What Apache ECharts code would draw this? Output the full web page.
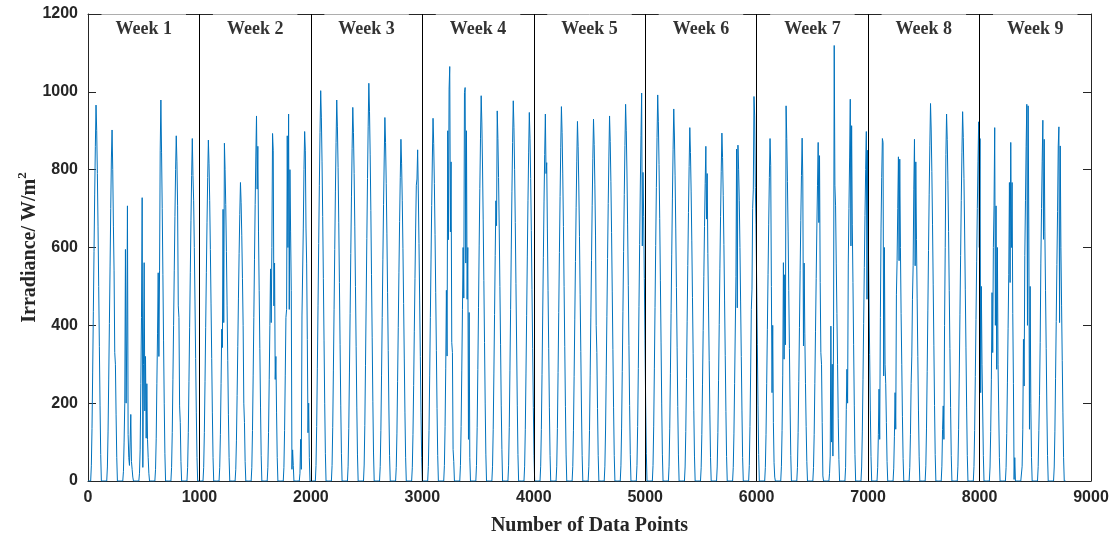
<!DOCTYPE html>
<html>
<head>
<meta charset="utf-8">
<script src="https://cdn.jsdelivr.net/npm/echarts@6/dist/echarts.min.js"></script>
<style>
html,body{margin:0;padding:0;background:#fff;}
#chart{width:1119px;height:542px;}
</style>
</head>
<body>
<div id="chart"></div>
<script>
// Hourly irradiance readings (W/m^2) for hours 05:00..19:00 of each day; other hours are 0.
// Each day spans 144 data points (10-minute samples); 7 days per block.
const hoursFrom = 5;
const pointsPerDay = 144;
const pointsPerHour = 6;

const block1 = [
  [39,135,280,435,590,735,860,966,900,790,655,500,345,195,68],
  [36,126,262,405,550,700,830,902,800,655,540,330,300,170,60],
  [25,100,200,595,200,370,707,120,60,40,100,171,50,30,10],
  [20,80,250,420,728,35,300,561,180,320,110,250,107,60,20],
  [30,110,250,380,535,320,540,850,979,845,700,530,360,200,70],
  [35,125,260,400,540,680,800,887,820,707,450,420,193,150,50],
  [35,125,255,395,535,670,785,880,785,720,600,460,315,175,60]
];
const block2 = [
  [35,125,255,395,535,665,780,876,815,720,595,455,315,175,60],
  [35,120,250,390,343,698,407,868,800,710,590,450,310,170,60],
  [30,105,220,345,470,585,685,767,715,630,520,400,200,150,50],
  [35,130,270,420,570,710,835,938,750,860,640,490,340,190,65],
  [35,125,260,400,545,407,600,893,850,450,560,261,320,175,60],
  [35,130,270,420,441,887,600,943,441,800,640,490,30,80,40],
  [20,107,30,424,420,650,800,898,850,650,560,364,124,200,60]
];
const block3 = [
  [40,140,290,450,610,760,895,1003,935,820,680,520,360,200,70],
  [40,137,285,440,595,745,870,979,910,805,665,510,350,195,70],
  [38,135,280,430,585,730,855,960,895,790,655,500,345,190,67],
  [41,143,296,460,623,777,910,1022,950,838,695,530,368,205,72],
  [37,130,270,420,570,710,830,934,870,765,635,485,335,185,65],
  [35,123,255,395,535,667,780,878,815,720,597,456,316,175,61],
  [34,120,245,385,520,650,760,776,851,740,610,465,320,175,60]
];
const block4 = [
  [37,130,270,420,568,708,830,932,867,765,634,485,335,186,65],
  [40,140,290,490,321,900,620,1007,1065,640,820,356,330,81,50],
  [40,140,285,440,600,470,998,1011,560,900,467,600,107,433,60],
  [40,138,287,445,604,752,881,990,920,812,673,515,356,198,69],
  [38,133,275,428,580,720,656,951,880,780,650,500,350,193,81],
  [39,137,283,440,596,743,870,977,909,801,664,508,352,195,68],
  [38,133,275,426,578,720,843,947,881,777,644,492,341,189,66]
];
const block5 = [
  [38,132,273,424,575,717,839,943,790,818,650,490,340,188,66],
  [38,135,279,433,587,731,856,962,895,789,654,500,346,192,67],
  [37,129,268,416,564,702,822,924,859,758,628,480,333,185,65],
  [37,130,270,419,567,707,828,930,865,763,632,400,330,186,65],
  [38,131,272,422,572,713,835,938,872,769,638,488,338,188,66],
  [39,136,281,436,590,736,862,968,900,794,658,503,348,194,68],
  [40,140,289,449,608,758,887,997,604,793,680,520,360,200,70]
];
const block6 = [
  [40,139,288,446,605,754,883,992,923,813,675,516,357,198,69],
  [38,134,277,430,583,727,851,956,889,784,650,497,344,191,67],
  [36,127,263,409,554,690,808,908,844,745,617,472,327,182,64],
  [34,120,249,387,525,654,765,860,673,790,585,447,310,172,60],
  [36,125,259,402,545,679,796,894,831,733,608,465,322,179,63],
  [35,121,250,388,526,853,445,863,800,720,600,460,320,180,60],
  [40,140,280,441,493,700,750,988,938,754,660,510,350,195,68]
];
const block7 = [
  [35,120,250,390,530,660,780,880,810,500,227,400,150,47,10],
  [38,130,270,561,313,530,350,964,880,770,640,490,340,190,66],
  [35,125,255,395,540,670,785,881,776,347,560,380,250,140,50],
  [35,120,250,385,520,650,760,870,664,836,510,330,300,150,13],
  [20,64,398,100,300,64,398,1120,760,707,560,430,300,160,55],
  [35,184,287,200,560,700,830,981,604,913,660,510,350,195,68],
  [36,126,260,404,548,682,800,898,467,850,620,470,325,180,63]
];
const block8 = [
  [35,120,236,107,420,650,780,880,870,270,600,300,250,150,50],
  [33,115,227,133,480,566,700,833,566,827,600,430,300,165,58],
  [35,120,250,321,467,553,750,878,553,820,620,470,320,180,62],
  [39,136,281,437,592,737,863,970,902,795,660,504,349,194,68],
  [38,132,193,107,400,600,839,943,877,773,641,490,340,189,66],
  [38,133,275,427,579,721,845,949,883,778,645,493,342,190,66],
  [37,130,268,415,563,700,820,923,600,880,227,500,300,185,65]
];
const block9 = [
  [36,127,260,484,330,600,707,908,400,707,287,600,300,180,60],
  [35,122,252,391,530,767,510,870,600,767,430,250,4,60,0],
  [38,133,364,244,580,720,860,968,400,964,650,133,500,200,60],
  [37,130,219,356,560,700,820,927,621,878,640,490,340,185,65],
  [36,128,264,410,556,693,861,910,407,861,600,450,310,175,60]
];

const weekLabels = ['Week 1','Week 2','Week 3','Week 4','Week 5','Week 6','Week 7','Week 8','Week 9'];
const weekBoundaries = [1000,2000,3000,4000,5000,6000,7000,8000];
const xTicks = [0,1000,2000,3000,4000,5000,6000,7000,8000,9000];
const yTicks = [0,200,400,600,800,1000,1200];
const weekSize = 1000;
const labelLevel = 1160;

// Build the series table from the blocks.
const days = [].concat(block1,block2,block3,block4,block5,block6,block7,block8,block9);
const seriesData = [];
days.forEach((vals, d) => {
  for (let h = 0; h < 24; h++) {
    const i = h - hoursFrom;
    const v = (i >= 0 && i < vals.length) ? vals[i] : 0;
    seriesData.push([d * pointsPerDay + h * pointsPerHour, v]);
  }
});

const labelData = weekLabels.map((t, i) => ({ name: t, value: [weekSize * i + weekSize / 2, labelLevel] }));

const axisColor = '#262626';
const tickFont = { fontFamily: 'Liberation Sans', fontWeight: 'bold', fontSize: 16, color: axisColor, formatter: v => String(v) };

const chart = echarts.init(document.getElementById('chart'), null, { renderer: 'canvas' });
chart.setOption({
  animation: false,
  backgroundColor: '#fff',
  grid: { left: 88, right: 28, top: 14, bottom: 61, containLabel: false },
  xAxis: [
    {
      type: 'value', min: xTicks[0], max: xTicks[xTicks.length - 1], interval: 1000,
      axisLine: { show: true, onZero: false, lineStyle: { color: axisColor, width: 1 } },
      axisTick: { show: true, inside: true, length: 8, lineStyle: { color: axisColor } },
      axisLabel: Object.assign({ margin: 9 }, tickFont),
      splitLine: { show: false },
      name: 'Number of Data Points', nameLocation: 'middle', nameGap: 35, nameMoveOverlap: false,
      nameTextStyle: { fontFamily: 'Liberation Serif', fontWeight: 'bold', fontSize: 20, color: axisColor }
    },
    {
      type: 'value', position: 'top', min: xTicks[0], max: xTicks[xTicks.length - 1], interval: 1000,
      axisLine: { show: true, onZero: false, lineStyle: { color: axisColor, width: 1 } },
      axisTick: { show: true, inside: true, length: 8, lineStyle: { color: axisColor } },
      axisLabel: { show: false }, splitLine: { show: false }
    }
  ],
  yAxis: [
    {
      type: 'value', min: yTicks[0], max: yTicks[yTicks.length - 1], interval: 200,
      axisLine: { show: true, onZero: false, lineStyle: { color: axisColor, width: 1 } },
      axisTick: { show: true, inside: true, length: 8, lineStyle: { color: axisColor } },
      axisLabel: Object.assign({ margin: 10 }, tickFont),
      splitLine: { show: false },
      name: 'Irradiance/ W/m{sup|2}', nameLocation: 'middle', nameGap: 45, nameMoveOverlap: false,
      nameTextStyle: {
        fontFamily: 'Liberation Serif', fontWeight: 'bold', fontSize: 20, color: axisColor,
        rich: { sup: { fontFamily: 'Liberation Serif', fontWeight: 'bold', fontSize: 13, color: axisColor, padding: [0, 0, 14, 0] } }
      }
    },
    {
      type: 'value', position: 'right', min: yTicks[0], max: yTicks[yTicks.length - 1], interval: 200,
      axisLine: { show: true, onZero: false, lineStyle: { color: axisColor, width: 1 } },
      axisTick: { show: true, inside: true, length: 8, lineStyle: { color: axisColor } },
      axisLabel: { show: false }, splitLine: { show: false }
    }
  ],
  series: [
    {
      type: 'line', xAxisIndex: 0, yAxisIndex: 0,
      data: seriesData, showSymbol: false, symbol: 'none', sampling: false,
      lineStyle: { color: '#0072BD', width: 1 },
      z: 2,
      markLine: {
        silent: true, symbol: ['none', 'none'], animation: false,
        label: { show: false },
        lineStyle: { color: '#000', width: 1, type: 'solid' },
        data: weekBoundaries.map(x => ({ xAxis: x }))
      }
    },
    {
      type: 'scatter', xAxisIndex: 0, yAxisIndex: 0, symbolSize: 0, z: 5,
      data: labelData,
      label: {
        show: true, position: 'inside', formatter: p => p.name,
        fontFamily: 'Liberation Serif', fontWeight: 'bold', fontSize: 18, color: '#000',
        backgroundColor: 'rgba(255,255,255,0.78)', padding: [8, 14, 6, 14]
      }
    }
  ]
});
</script>
</body>
</html>
